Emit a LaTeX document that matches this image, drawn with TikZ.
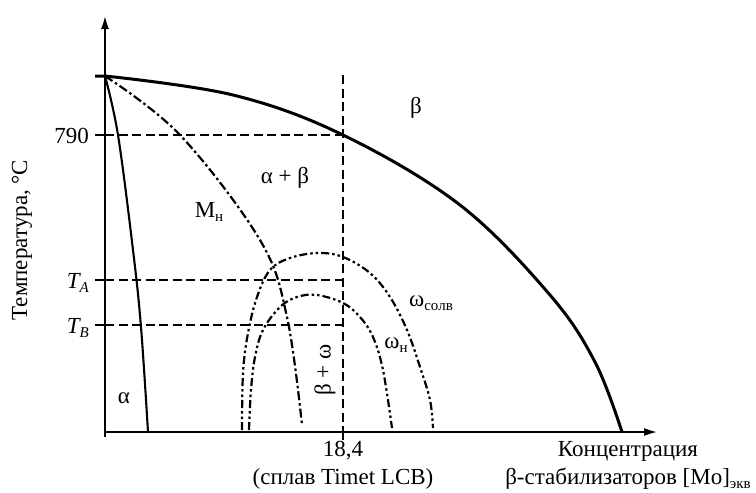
\documentclass[tikz,border=0pt]{standalone}
\usepackage{fontspec}
\setmainfont{Liberation Serif}
\usetikzlibrary{arrows.meta, positioning}
\newcommand{\dn}[1]{\raisebox{-0.4ex}{\fontsize{15}{15}\selectfont #1}}

\begin{document}
\begin{tikzpicture}[
    >={Latex[length=14pt, width=8pt]},
    x=1pt, y=-1pt,
    font=\fontsize{23}{28}\selectfont,
    ax/.style={->, line width=2.4pt},
    solvus/.style={line width=3pt},
    bound/.style={line width=2.1pt},
    guide/.style={line width=1.9pt, dash pattern=on 9pt off 4.5pt},
    mart/.style={line width=2.2pt, dash pattern=on 9pt off 3pt on 2.5pt off 3pt},
    omg/.style={line width=2.2pt, dash pattern=on 8pt off 3pt on 2.5pt off 3pt on 2.5pt off 3pt},
    tk/.style={line width=2.4pt},
    lbl/.style={inner sep=0pt},
  ]
    \useasboundingbox (0,0) rectangle (756,493);
    % ===== оси =====
    \coordinate (O)    at (105,432);
    \coordinate (ytip) at (105,15);
    \coordinate (xtip) at (658,432);
    \draw[ax] (105,437) -- (ytip);
    \draw[ax] (O) -- (xtip);
    % ===== уровни температуры и состав 18,4 =====
    \coordinate (y790) at (95,135);
    \coordinate (yA)   at (95,280);
    \coordinate (yB)   at (95,325);
    \coordinate (p790) at (343,135);
    \coordinate (pA)   at (343,280);
    \coordinate (pB)   at (343,325);
    \coordinate (ctop) at (343,75);
    \coordinate (cbot) at (343,432);
    \coordinate (ctk)  at (343,440);
    \draw[tk] (y790) -- ++(10,0);
    \draw[tk] (yA) -- ++(10,0);
    \draw[tk] (yB) -- ++(10,0);
    \draw[guide] ([xshift=10pt]y790) -- (p790);
    \draw[guide] ([xshift=10pt]yA) -- (pA);
    \draw[guide] ([xshift=10pt]yB) -- (pB);
    \draw[guide] (ctop) -- (cbot);
    \draw[tk] (cbot) -- (ctk);
    % ===== граница beta / alpha+beta =====
    \draw[solvus] (95,76) -- (105,76) plot[smooth, tension=0.6] coordinates {(105,76) (233,95)
      (343,135) (460,205) (550,295) (595,362) (622,432)};
    % ===== граница alpha / alpha+beta =====
    \draw[bound] plot[smooth, tension=0.6] coordinates {(105,76) (118,135) (133,250)
      (141,327) (148,432)};
    % ===== M_н =====
    \draw[mart] plot[smooth, tension=0.6] coordinates {(105,76) (180,135) (260,240)
      (287,317) (302,425)};
    % ===== omega_солв и omega_н =====
    \draw[omg] plot[smooth, tension=0.6] coordinates {(242,430) (243,373) (248,333) (257,297)
      (270,270) (290,258) (318,253) (343,257) (370,273) (390,297) (407,330) (420,367) (430,400) (433,428)};
    \draw[omg] plot[smooth, tension=0.6] coordinates {(249,430) (251,390) (255,357) (263,330)
      (280,307) (297,297) (317,295) (343,303) (360,317) (373,337) (383,370) (392,428)};
    % ===== подписи =====
    \node[lbl, anchor=east] (t790) at (89,136) {790};
    \node[lbl, anchor=east] (tA)   at (89,283) {\textit{T\dn{A}}};
    \node[lbl, anchor=east] (tB)   at (89,328) {\textit{T\dn{B}}};
    \node[lbl, rotate=90] (ylab) at (22,240) {Температура, °C};
    \node[lbl] (ab)   at (285,178) {α + β};
    \node[lbl] (b)    at (416,108) {β};
    \node[lbl] (Mn)   at (209,212) {M\dn{н}};
    \node[lbl] (a)    at (124,398) {α};
    \node[lbl, rotate=90] (bw) at (325,370) {β + ω};
    \node[lbl] (wsol) at (431,303) {ω\dn{солв}};
    \node[lbl] (wn)   at (396,345) {ω\dn{н}};
    \node[lbl, align=center, anchor=north] (c184) at (343,441) {18,4\\(сплав Timet LCB)};
    \node[lbl, align=center, anchor=north east] (xlab) at (751,441) {Концентрация\\β-стабилизаторов [Mo]\dn{экв}};
\end{tikzpicture}
\end{document}
